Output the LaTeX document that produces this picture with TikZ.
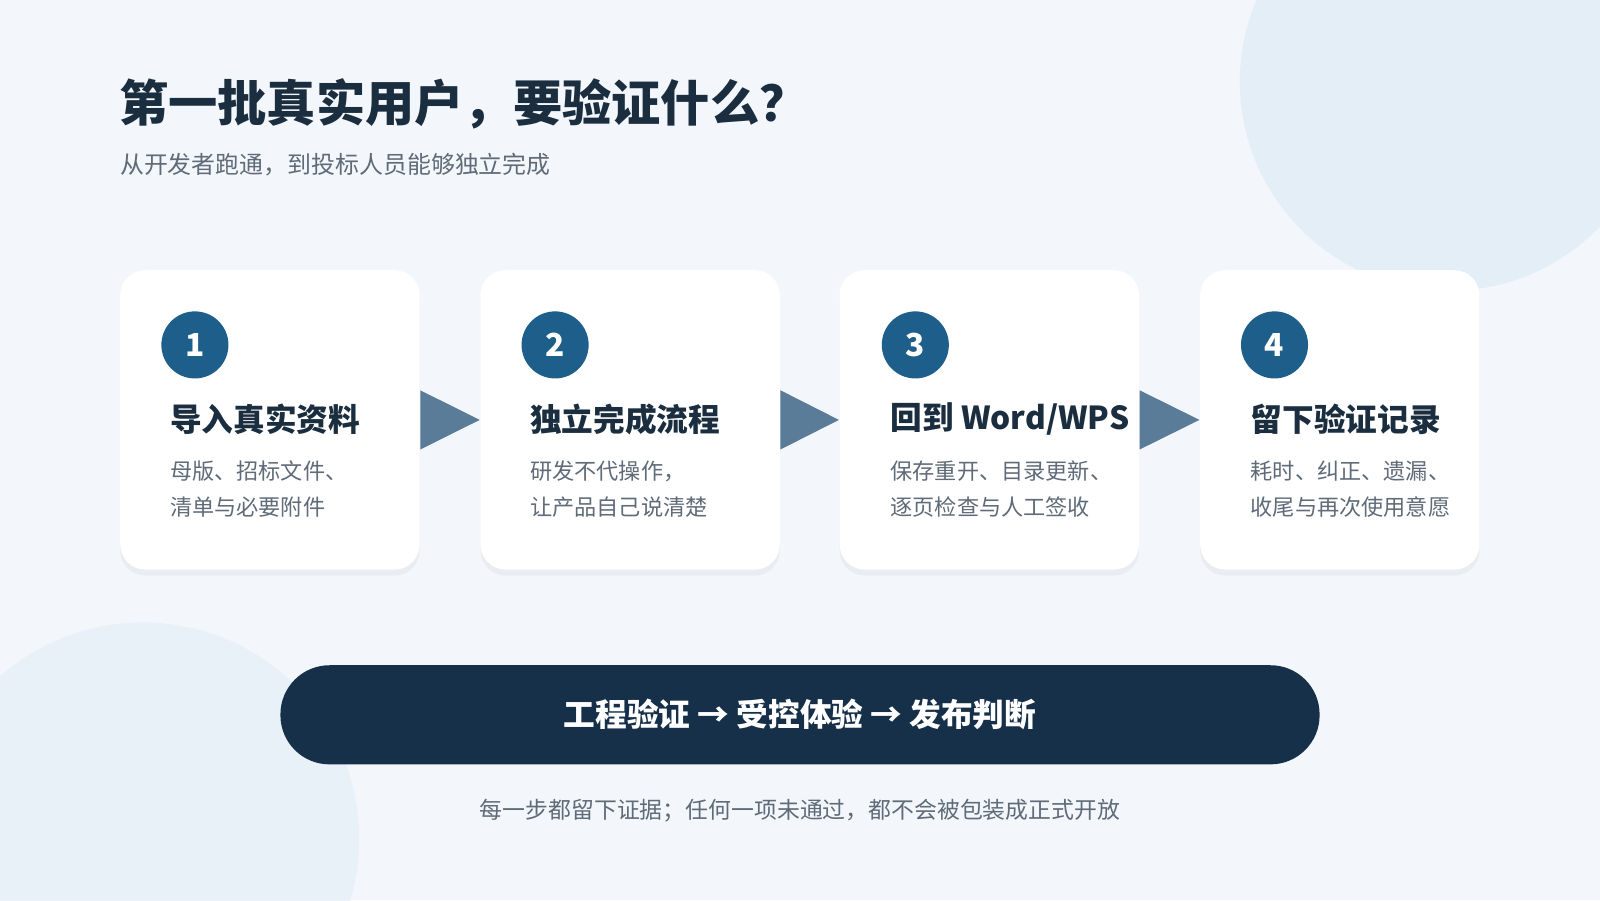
\documentclass[tikz,border=0pt]{standalone}
\usepackage{fontspec}
\setmainfont{Noto Sans CJK SC}
\usetikzlibrary{positioning,shadows,calc}
\definecolor{bgcol}{HTML}{F3F7FB}
\definecolor{blobcol}{HTML}{E4EEF7}
\definecolor{badgecol}{HTML}{1D5F8A}
\definecolor{arrowcol}{HTML}{5A7C98}
\definecolor{titlecol}{HTML}{1B2E3F}
\definecolor{bannercol}{HTML}{163049}
\definecolor{greycol}{HTML}{5F6B78}
\tikzset{
  card/.style={fill=white, rounded corners=0.25cm, minimum width=2.99cm, minimum height=2.99cm,
    drop shadow={opacity=0.08, shadow xshift=0pt, shadow yshift=-0.06cm}},
  badge/.style={circle, fill=badgecol, minimum size=0.67cm, inner sep=0pt, text=white,
    font=\fontsize{9}{9}\selectfont\bfseries},
  cardtitle/.style={anchor=west, text=titlecol, font=\fontsize{9}{9}\selectfont\bfseries, inner sep=0pt},
  cardtext/.style={anchor=north west, text=greycol, align=left, inner sep=0pt,
    font=\fontsize{6.3}{10.2}\selectfont},
  steparrow/.style={fill=arrowcol}
}
\begin{document}
\begin{tikzpicture}[x=0.0102cm, y=-0.0102cm]
    % Background
    \fill[bgcol] (0,0) rectangle (1568,882);
    \useasboundingbox (0,0) rectangle (1568,882);
    \fill[blobcol] (1420,80) circle (205);
    \fill[blobcol, opacity=0.7] (140,822) circle (212);

    % Title
    \node[anchor=west, text=titlecol, inner sep=0pt, font=\fontsize{14}{14}\selectfont\bfseries]
        (title) at (116,102) {第一批真实用户，要验证什么？};
    \node[anchor=west, text=greycol, inner sep=0pt, font=\fontsize{6.8}{7}\selectfont]
        (subtitle) at (117,161) {从开发者跑通，到投标人员能够独立完成};

    % Cards
    \node[card] (card1) at (264.5,411.5) {};
    \node[card] (card2) at (617.5,411.5) {};
    \node[card] (card3) at (969.5,411.5) {};
    \node[card, minimum width=2.79cm] (card4) at (1313,411.5) {};

    % Arrows between cards
    \foreach \a/\b in {card1/card2, card2/card3, card3/card4}
        \fill[steparrow] ($(\a.east)+(0,-29)$) -- ($(\b.west)$) -- ($(\a.east)+(0,29)$) -- cycle;

    % Badges
    \node[badge] (badge1) at (191,338) {1};
    \node[badge] (badge2) at (544,338) {2};
    \node[badge] (badge3) at (897,338) {3};
    \node[badge] (badge4) at (1249,338) {4};

    % Card titles
    \node[cardtitle] (head1) at (166,411) {导入真实资料};
    \node[cardtitle] (head2) at (519,411) {独立完成流程};
    \node[cardtitle] (head3) at (872,411) {回到 Word/WPS};
    \node[cardtitle] (head4) at (1225,411) {留下验证记录};

    % Card texts
    \node[cardtext] (body1) at (166,451) {母版、招标文件、\\清单与必要附件};
    \node[cardtext] (body2) at (519,451) {研发不代操作，\\让产品自己说清楚};
    \node[cardtext] (body3) at (872,451) {保存重开、目录更新、\\逐页检查与人工签收};
    \node[cardtext] (body4) at (1225,451) {耗时、纠正、遗漏、\\收尾与再次使用意愿};

    % Banner
    \node[fill=bannercol, rounded corners=0.49cm, minimum width=10.38cm, minimum height=0.99cm,
        text=white, font=\fontsize{9}{9}\selectfont\bfseries]
        (banner) at (784,700.5) {工程验证 → 受控体验 → 发布判断};

    % Footer
    \node[text=greycol, inner sep=0pt, font=\fontsize{6.5}{7}\selectfont]
        (footer) at (784,794) {每一步都留下证据；任何一项未通过，都不会被包装成正式开放};
\end{tikzpicture}
\end{document}
